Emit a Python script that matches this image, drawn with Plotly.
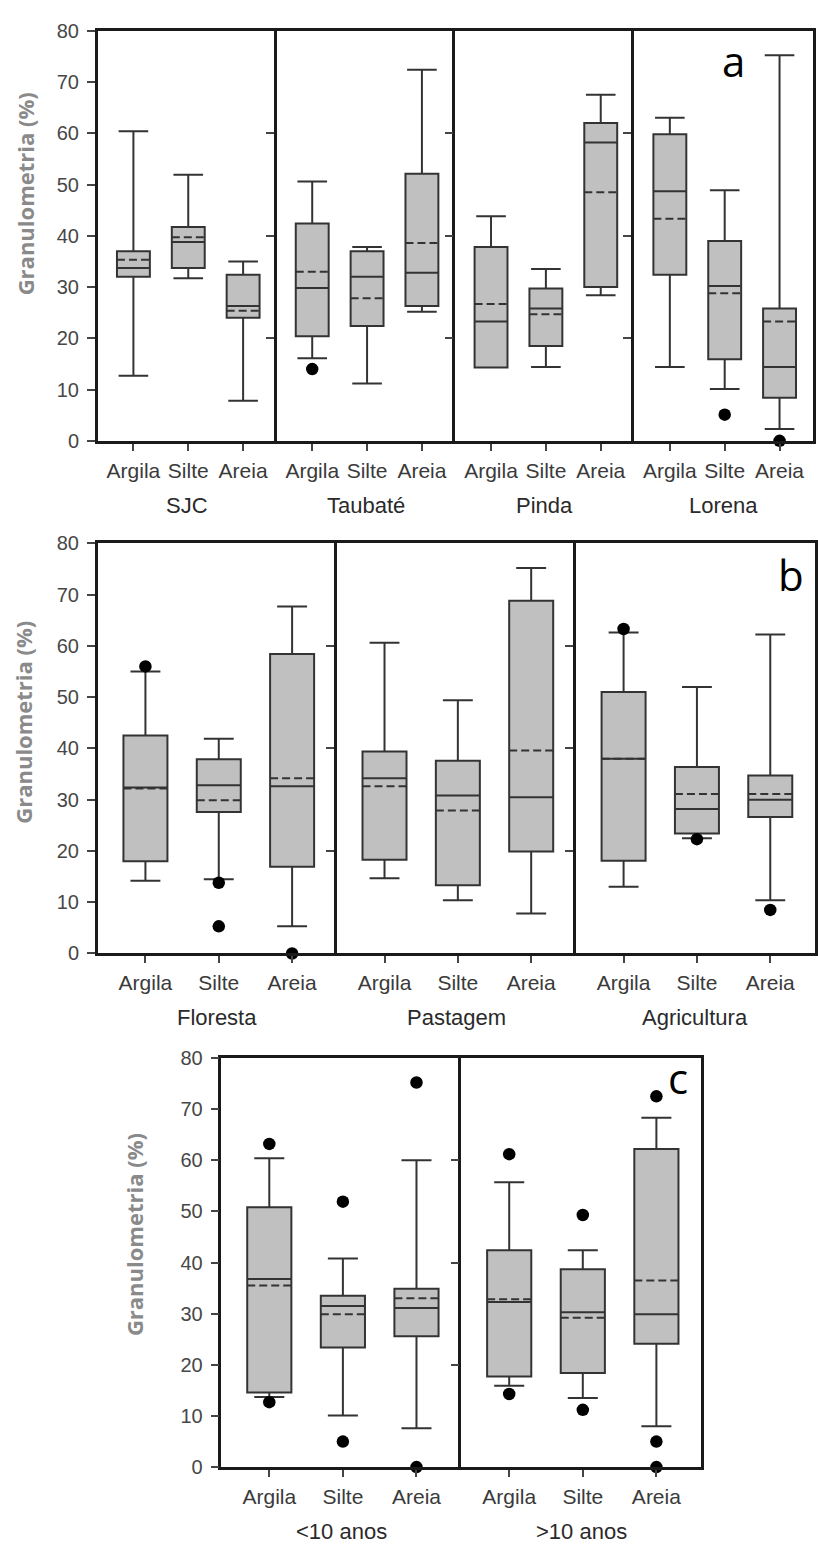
import plotly.graph_objects as go

# ---------------------------------------------------------------- data
categories = ["Argila", "Silte", "Areia"]

# Panel a: sampling sites (three fractions per site, left to right)
a_groups = ["SJC", "Taubaté", "Pinda", "Lorena"]
a_lower = [12.7, 31.7, 7.8, 16.1, 11.2, 25.2, 14.3, 14.4, 28.4, 14.4, 10.1, 2.3]
a_q1 = [32.0, 33.7, 24.0, 20.4, 22.4, 26.3, 14.3, 18.5, 30.0, 32.4, 15.9, 8.4]
a_median = [33.7, 38.8, 26.3, 29.8, 32.0, 32.8, 23.3, 25.8, 58.2, 48.7, 30.2, 14.4]
a_q3 = [37.0, 41.7, 32.4, 42.4, 37.0, 52.1, 37.8, 29.7, 62.0, 59.8, 39.0, 25.8]
a_upper = [60.4, 51.9, 35.0, 50.6, 37.8, 72.4, 43.8, 33.5, 67.5, 63.0, 48.9, 75.2]
a_mean = [35.3, 39.7, 25.4, 33.0, 27.8, 38.6, 26.7, 24.7, 48.5, 43.3, 28.8, 23.3]
a_out_box = [3, 10, 11]
a_out_val = [14.0, 5.1, 0.0]

# Panel b: land use
b_groups = ["Floresta", "Pastagem", "Agricultura"]
b_lower = [14.2, 14.5, 5.3, 14.7, 10.4, 7.8, 13.0, 22.5, 10.4]
b_q1 = [18.0, 27.6, 16.9, 18.3, 13.3, 19.9, 18.1, 23.4, 26.6]
b_median = [32.4, 32.8, 32.6, 34.2, 30.8, 30.5, 38.0, 28.2, 30.0]
b_q3 = [42.5, 37.9, 58.4, 39.4, 37.6, 68.8, 51.0, 36.4, 34.7]
b_upper = [55.0, 41.9, 67.7, 60.6, 49.4, 75.2, 62.6, 52.0, 62.2]
b_mean = [32.2, 29.9, 34.2, 32.6, 27.9, 39.6, 38.0, 31.1, 31.1]
b_out_box = [0, 1, 1, 2, 6, 7, 8]
b_out_val = [56.0, 13.8, 5.3, 0.0, 63.3, 22.3, 8.5]

# Panel c: time under use
c_groups = ["<10 anos", ">10 anos"]
c_lower = [13.7, 10.1, 7.6, 15.9, 13.5, 8.0]
c_q1 = [14.6, 23.4, 25.6, 17.7, 18.4, 24.1]
c_median = [36.8, 31.5, 31.1, 32.3, 30.3, 29.9]
c_q3 = [50.8, 33.5, 34.9, 42.4, 38.7, 62.2]
c_upper = [60.4, 40.8, 60.0, 55.7, 42.4, 68.3]
c_mean = [35.5, 29.9, 33.0, 32.8, 29.2, 36.5]
c_out_box = [0, 0, 1, 1, 2, 2, 3, 3, 4, 4, 5, 5, 5]
c_out_val = [63.2, 12.7, 51.9, 5.0, 75.2, 0.0, 61.2, 14.3, 49.3, 11.2, 72.5, 5.0, 0.0]

y_ticks = [0, 10, 20, 30, 40, 50, 60, 70, 80]

# ---------------------------------------------------------------- layout
W, H = 818, 1556
FONT = "Liberation Sans, Arial, sans-serif"
TITLE_FONT = "Open Sans, sans-serif"
BOX_FILL = "#c0c0c0"
BOX_LINE = "#333333"
FRAME = "#1a1a1a"
BOX_WIDTH = 0.6
positions = list(range(len(categories)))


def fx(p):
    return p / W


def fy(p):
    return 1 - p / H


panels = [
    dict(groups=a_groups, lower=a_lower, q1=a_q1, median=a_median, q3=a_q3,
         upper=a_upper, mean=a_mean, out_box=a_out_box, out_val=a_out_val,
         left=98, right=815, top=20, bottom=436, whisker=0.9,
         letter="a", letter_xy=(735, 50), title_xy=(25, 185), group_y=502),
    dict(groups=b_groups, lower=b_lower, q1=b_q1, median=b_median, q3=b_q3,
         upper=b_upper, mean=b_mean, out_box=b_out_box, out_val=b_out_val,
         left=98, right=817, top=540, bottom=956, whisker=0.68,
         letter="b", letter_xy=(793, 572), title_xy=(23, 721), group_y=1021),
    dict(groups=c_groups, lower=c_lower, q1=c_q1, median=c_median, q3=c_q3,
         upper=c_upper, mean=c_mean, out_box=c_out_box, out_val=c_out_val,
         left=222, right=703, top=1062, bottom=1477, whisker=0.68,
         letter="c", letter_xy=(680, 1082), title_xy=(135, 1241), group_y=1542),
]

fig = go.Figure()
annotations = []
idx = 0
for panel in panels:
    n = len(panel["groups"])
    step = (panel["right"] - panel["left"]) / n
    for g in range(n):
        idx += 1
        xname = "x" if idx == 1 else f"x{idx}"
        yname = "y" if idx == 1 else f"y{idx}"
        sl = slice(3 * g, 3 * g + 3)
        fig.add_trace(go.Box(
            x=positions,
            lowerfence=panel["lower"][sl], q1=panel["q1"][sl],
            median=panel["median"][sl], q3=panel["q3"][sl],
            upperfence=panel["upper"][sl],
            boxpoints=False, width=BOX_WIDTH,
            whiskerwidth=panel["whisker"],
            fillcolor=BOX_FILL, line=dict(color=BOX_LINE, width=2),
            xaxis=xname, yaxis=yname, showlegend=False,
        ))
        # dashed mean line across each box
        mx, my = [], []
        for p, m in zip(positions, panel["mean"][sl]):
            mx += [p - BOX_WIDTH / 2, p + BOX_WIDTH / 2, None]
            my += [m, m, None]
        fig.add_trace(go.Scatter(
            x=mx, y=my, mode="lines",
            line=dict(color=BOX_LINE, width=2, dash="8px,4px"),
            xaxis=xname, yaxis=yname, showlegend=False,
        ))
        # outliers
        ox = [b - 3 * g for b in panel["out_box"] if 3 * g <= b < 3 * g + 3]
        oy = [v for b, v in zip(panel["out_box"], panel["out_val"]) if 3 * g <= b < 3 * g + 3]
        if ox:
            fig.add_trace(go.Scatter(
                x=ox, y=oy, mode="markers", cliponaxis=False,
                marker=dict(color="black", size=12.5),
                xaxis=xname, yaxis=yname, showlegend=False,
            ))

        x0 = fx(panel["left"] + g * step)
        x1 = fx(panel["left"] + (g + 1) * step)
        first = g == 0
        last = g == n - 1
        fig.layout[f"xaxis{'' if idx == 1 else idx}"] = dict(
            domain=[x0, x1], anchor=yname,
            tickmode="array", tickvals=positions, ticktext=categories,
            range=[-0.65, 2.61], showgrid=False, zeroline=False,
            showline=True, mirror=True, linecolor=FRAME, linewidth=2.5,
            ticks="outside", ticklen=7, tickwidth=1.5, tickcolor="#444",
            ticklabelstandoff=2,
            tickfont=dict(family=FONT, size=21, color="#3a3a3a"),
        )
        # each divider is drawn once, by the left edge of the panel to its right
        fig.layout[f"yaxis{'' if idx == 1 else idx}"] = dict(
            domain=[fy(panel["bottom"]), fy(panel["top"])], anchor=xname,
            range=[0, 80], showgrid=False, zeroline=False,
            showline=True, mirror=last, linecolor=FRAME, linewidth=2.5,
            ticks="outside", ticklen=8, tickwidth=1.5, tickcolor="#444",
            tickvals=y_ticks if first else [20, 40, 60],
            showticklabels=first, ticklabelstandoff=4,
            tickfont=dict(family=FONT, size=20, color="#474747"),
        )
        annotations.append(dict(
            text=panel["groups"][g], xref="paper", yref="paper",
            x=(x0 + x1) / 2, y=fy(panel["group_y"]),
            xanchor="center", yanchor="middle", showarrow=False,
            font=dict(family=FONT, size=22, color="#2a2a2a"),
        ))

    annotations.append(dict(
        text="Granulometria (%)", xref="paper", yref="paper",
        x=fx(panel["title_xy"][0]), y=fy(panel["title_xy"][1]),
        xanchor="center", yanchor="middle", textangle=-90, showarrow=False,
        font=dict(family=TITLE_FONT, size=22, color="#8a8a8a", weight="bold"),
    ))
    annotations.append(dict(
        text=panel["letter"], xref="paper", yref="paper",
        x=fx(panel["letter_xy"][0]), y=fy(panel["letter_xy"][1]),
        xanchor="center", yanchor="middle", showarrow=False,
        font=dict(family=TITLE_FONT, size=42, color="black"),
    ))

fig.update_layout(
    width=W, height=H, margin=dict(l=0, r=0, t=0, b=0),
    paper_bgcolor="white", plot_bgcolor="white",
    annotations=annotations,
)

fig.write_html("out.html")
